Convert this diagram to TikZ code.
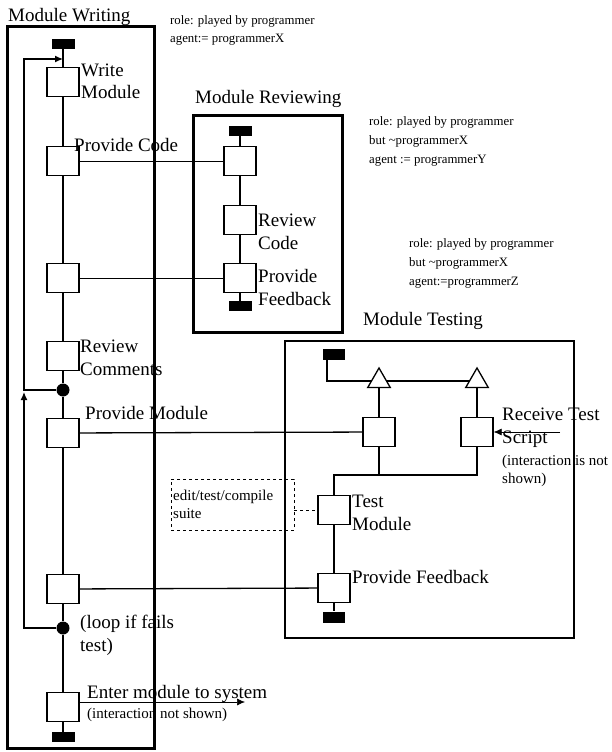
\documentclass[tikz,border=0pt]{standalone}
\usepackage{fontspec}
\setmainfont{Liberation Serif}
\usetikzlibrary{arrows.meta,shapes.geometric}
\newcommand{\bigtxt}{\fontsize{19}{22.5}\selectfont}
\newcommand{\roletxt}{\fontsize{12.8}{18.8}\selectfont}
\newcommand{\smalltxt}{\fontsize{15}{18}\selectfont}

\begin{document}
\begin{tikzpicture}[x=1pt,y=-1pt,
		act/.style={draw,line width=1.3pt,minimum width=32pt,minimum height=29pt,inner sep=0pt},
		bar/.style={fill,minimum width=23pt,minimum height=10pt,inner sep=0pt},
		dot/.style={circle,fill,minimum size=13pt,inner sep=0pt},
		tri/.style={draw,line width=1.3pt,regular polygon,regular polygon sides=3,minimum size=26pt,inner sep=0pt},
		frame/.style={line width=3pt},
		flow/.style={line width=1.3pt},
		talk/.style={line width=0.7pt},
		lbl/.style={anchor=base west,align=left,inner sep=0pt,font=\bigtxt},
		role/.style={anchor=base west,align=left,inner sep=0pt,font=\roletxt},
		aside/.style={anchor=base west,align=left,inner sep=0pt,font=\smalltxt},
		tip/.style={-{Latex[length=8pt,width=7pt]}}]
			\useasboundingbox (0,0) rectangle (612,752);
			% module writing
			\draw[frame] (7,27) rectangle (154,748);
			\node[lbl] at (8,22) {Module Writing};
			\node[bar] (wStart) at (63,44) {};
			\node[act] (wWrite) at (63,82) {};
			\node[act] (wCode) at (63,161) {};
			\node[act] (wFeed) at (63,278) {};
			\node[act] (wComm) at (63,356) {};
			\node[dot] (wLoop1) at (63,390) {};
			\node[act] (wMod) at (63,433) {};
			\node[act] (wTest) at (63,589) {};
			\node[dot] (wLoop2) at (63,628) {};
			\node[act] (wEnter) at (63,707) {};
			\node[bar] (wEnd) at (63,737) {};
			\draw[flow] (wStart) -- (wWrite) -- (wCode) -- (wFeed) -- (wComm) -- (wLoop1) -- (wMod) -- (wTest) -- (wLoop2) -- (wEnter) -- (wEnd);
			\coordinate (loopX) at (24,59);
			\draw[flow,tip] (wLoop2) -| (24,392);
			\draw[flow,tip] (wLoop1) -| (loopX) -- (loopX -| wStart);
			\node[lbl] at (81,99) {Write\\Module};
			\node[lbl] at (74,151) {Provide Code};
			\node[lbl] at (80,375) {Review\\Comments};
			\node[lbl] at (85,419) {Provide Module};
			\node[lbl] at (80,651) {(loop if fails\\test)};
			\node[lbl] at (87,698) {Enter module to system};
			\node[aside] at (87,718) {(interaction not shown)};
			\coordinate (sysOut) at (245,702);
			\draw[semithick,tip] (wEnter.east |- sysOut) -- (sysOut);
			\node[role] at (170,43) {role: played by programmer\\agent:= programmerX};
			% module reviewing
			\draw[frame] (193,115) rectangle (342,332);
			\node[lbl] at (195,103) {Module Reviewing};
			\node[bar] (rStart) at (240,131) {};
			\node[act] (rCode) at (240,161) {};
			\node[act] (rRev) at (240,220) {};
			\node[act] (rFeed) at (240,278) {};
			\node[bar] (rEnd) at (240,306) {};
			\draw[flow] (rStart) -- (rCode) -- (rRev) -- (rFeed) -- (rEnd);
			\node[lbl] at (258,249) {Review\\Code};
			\node[lbl] at (258,305) {Provide\\Feedback};
			\node[role] at (369,163) {role: played by programmer\\but \textasciitilde programmerX\\agent := programmerY};
			\node[role] at (409,285) {role: played by programmer\\but \textasciitilde programmerX\\agent:=programmerZ};
			\draw[talk] (wCode) -- (rCode);
			\draw[talk] (wFeed) -- (rFeed);
			% module testing
			\draw[line width=2.5pt] (285,341) rectangle (574,638);
			\node[lbl] at (363,325) {Module Testing};
			\node[bar,minimum width=22pt,minimum height=11pt] (tStart) at (334,354) {};
			\node[tri] (tTri1) at (379,381) {};
			\node[tri] (tTri2) at (477,381) {};
			\node[act] (tMod) at (379,432) {};
			\node[act] (tScr) at (477,432) {};
			\node[act] (tTest) at (334,510) {};
			\node[act] (tFeed) at (334,588) {};
			\node[bar,minimum width=22pt,minimum height=11pt] (tEnd) at (334,617) {};
			\coordinate (tJoin) at (334,475);
			\draw[flow] ([xshift=-7pt]tStart.south) |- (tTri1) -- (tTri2);
			\draw[flow] (tTri1) -- (tMod) -- (tMod |- tJoin);
			\draw[flow] (tTri2) -- (tScr) |- (tJoin) -- (tTest) -- (tFeed) -- (tEnd);
			\node[lbl] at (502,443) {Receive Test\\Script};
			\node[aside] at (502,483) {(interaction is not\\shown)};
			\node[lbl] at (352,530) {Test\\Module};
			\node[lbl] at (352,583) {Provide Feedback};
			\coordinate (scrIn) at (560,432);
			\draw[semithick,tip] (scrIn) -- (tScr);
			\draw[flow] (wMod) -- (tMod);
			\draw[flow] (wTest) -- (tFeed);
			\node[draw,dashed,anchor=north west,minimum width=123pt,minimum height=51pt,text width=119pt,inner xsep=2pt,align=left,font=\smalltxt] (dBox) at (171,479) {edit/test/compile\\suite};
			\draw[dashed] (dBox.east |- tTest) -- (tTest);
		\end{tikzpicture}
\end{document}
